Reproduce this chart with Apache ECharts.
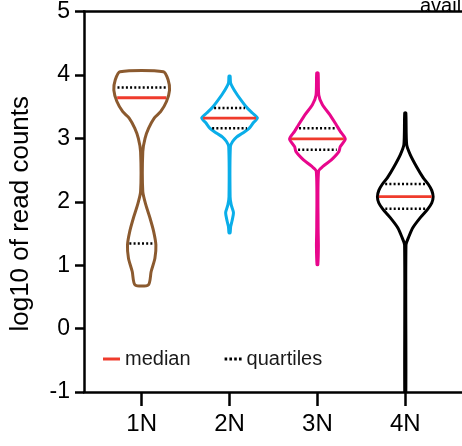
<!DOCTYPE html>
<html>
<head>
<meta charset="utf-8">
<script src="https://cdn.jsdelivr.net/npm/echarts@6/dist/echarts.min.js"></script>
<style>
  html, body { margin: 0; padding: 0; background: #fff; }
  #chart { width: 462px; height: 446px; }
</style>
</head>
<body>
<div id="chart"></div>
<script>
// groups on the x axis
var groups = ['1N', '2N', '3N', '4N'];

// summary lines (log10 of read counts)
var medians        = [3.64, 3.32, 2.99, 2.08];
var upperQuartiles = [3.80, 3.48, 3.16, 2.28];
var lowerQuartiles = [1.34, 3.16, 2.82, 1.89];

// violin outlines: y values and relative half widths (1 = widest)
var violinY_1N = [0.69, 0.90, 1.11, 1.32, 1.53, 1.74, 1.95, 2.16, 2.79, 3.00, 3.16, 3.32, 3.42, 3.58, 3.76, 3.92, 4.05];
var violinW_1N = [0.24, 0.34, 0.475, 0.51, 0.43, 0.30, 0.15, 0.04, 0.04, 0.12, 0.25, 0.45, 0.68, 0.89, 1.0, 0.95, 0.78];

var violinY_2N = [1.51, 1.61, 1.70, 1.83, 1.95, 2.08, 2.87, 2.95, 3.02, 3.08, 3.16, 3.25, 3.32, 3.40, 3.48, 3.55, 3.71, 3.87, 3.98];
var violinW_2N = [0.02, 0.04, 0.09, 0.14, 0.06, 0.02, 0.03, 0.11, 0.25, 0.46, 0.71, 0.86, 1.0, 0.82, 0.63, 0.5, 0.24, 0.04, 0.02];

var violinY_3N = [1.01, 1.30, 1.60, 2.48, 2.56, 2.66, 2.79, 2.87, 2.99, 3.11, 3.21, 3.37, 3.53, 3.68, 4.03];
var violinW_3N = [0.015, 0.035, 0.025, 0.04, 0.21, 0.5, 0.77, 0.82, 1.0, 0.82, 0.68, 0.45, 0.18, 0.05, 0.025];

var violinY_4N = [-1.0, 1.32, 1.43, 1.59, 1.75, 1.88, 1.98, 2.08, 2.18, 2.28, 2.38, 2.54, 2.74, 2.90, 3.40];
var violinW_4N = [0.02, 0.025, 0.11, 0.27, 0.54, 0.80, 0.95, 1.0, 0.95, 0.82, 0.64, 0.42, 0.18, 0.05, 0.02];

var profiles = [
    {y: violinY_1N, w: violinW_1N},
    {y: violinY_2N, w: violinW_2N},
    {y: violinY_3N, w: violinW_3N},
    {y: violinY_4N, w: violinW_4N}
];

var colors = ['#8B5A2F', '#0AAEE9', '#E8078C', '#000000'];
var medianColor = '#EF3B2C';
var halfMax = 0.317;   // widest half width, in x axis units
var fontName = 'Liberation Sans';

function widthAt(p, v){
    for (var i = 0; i < p.y.length - 1; i++) {
        if (v >= p.y[i] && v <= p.y[i + 1]) {
            var t = (v - p.y[i]) / (p.y[i + 1] - p.y[i]);
            return p.w[i] + t * (p.w[i + 1] - p.w[i]);
        }
    }
    return 0;
}

function renderViolin(params, api){
    var gi = params.dataIndex;
    var cx = api.value(0);
    var p = profiles[gi];
    var color = colors[gi];
    var pts = [];
    for (var i = 0; i < p.y.length; i++) {
        pts.push(api.coord([cx + p.w[i] * halfMax, p.y[i]]));
    }
    for (var j = p.y.length - 1; j >= 0; j--) {
        pts.push(api.coord([cx - p.w[j] * halfMax, p.y[j]]));
    }
    var children = [{
        type: 'polygon',
        shape: {points: pts, smooth: 0.25},
        style: {fill: 'none', stroke: color, lineWidth: 3}
    }];

    function hline(v, k, style){
        var w = widthAt(p, v) * halfMax * k;
        var a = api.coord([cx - w, v]);
        var b = api.coord([cx + w, v]);
        children.push({
            type: 'line',
            shape: {x1: a[0], y1: a[1], x2: b[0], y2: b[1]},
            style: style
        });
    }
    hline(upperQuartiles[gi], 0.88, {stroke: '#000', lineWidth: 2.5, lineDash: [2, 2.2]});
    hline(lowerQuartiles[gi], 0.88, {stroke: '#000', lineWidth: 2.5, lineDash: [2, 2.2]});
    hline(medians[gi], 0.95, {stroke: medianColor, lineWidth: 2.8});

    return {type: 'group', children: children};
}

var chart = echarts.init(document.getElementById('chart'), null, {renderer: 'canvas'});

var option = {
    animation: false,
    backgroundColor: '#fff',
    textStyle: {fontFamily: fontName},
    grid: {left: 82, right: 0, top: 11, bottom: 54, containLabel: false},
    legend: {
        left: 103,
        top: 349,
        padding: 0,
        itemWidth: 17,
        itemHeight: 3,
        itemGap: 34,
        textStyle: {fontSize: 20, color: '#1a1a1a', fontFamily: fontName},
        data: [
            {name: 'median', icon: 'rect'},
            {name: 'quartiles', icon: 'path://M0 0h2.6v3h-2.6zM4.8 0h2.6v3h-2.6zM9.6 0h2.6v3h-2.6zM14.4 0h2.6v3h-2.6z'}
        ]
    },
    xAxis: [{
        type: 'value',
        min: 0.3434,
        max: 4.6455,
        position: 'bottom',
        splitLine: {show: false},
        axisLine: {show: true, onZero: false, lineStyle: {color: '#000', width: 2.5}},
        axisTick: {show: true, length: 14, customValues: [1, 2, 3, 4], lineStyle: {color: '#000', width: 2.5}},
        axisLabel: {
            customValues: [1, 2, 3, 4],
            margin: 20,
            fontSize: 24,
            color: '#000',
            fontFamily: fontName,
            formatter: function(v){ return groups[Math.round(v) - 1] || ''; }
        }
    }, {
        type: 'value',
        min: 0.3434,
        max: 4.6455,
        position: 'top',
        splitLine: {show: false},
        axisLine: {show: true, onZero: false, lineStyle: {color: '#000', width: 2.5}},
        axisTick: {show: false},
        axisLabel: {show: false}
    }],
    yAxis: {
        type: 'value',
        min: -1,
        max: 5,
        interval: 1,
        name: 'log10 of read counts',
        nameLocation: 'middle',
        nameGap: 50,
        nameTextStyle: {fontSize: 26, color: '#000', fontFamily: fontName, padding: [0, 24, 0, 0]},
        splitLine: {show: false},
        axisLine: {show: true, onZero: false, lineStyle: {color: '#000', width: 2.5}},
        axisTick: {show: true, length: 9, lineStyle: {color: '#000', width: 2.5}},
        axisLabel: {margin: 14, fontSize: 23, color: '#000', fontFamily: fontName}
    },
    graphic: [{
        type: 'text',
        x: 420,
        y: 6,
        style: {text: 'avail', font: '20px "Liberation Sans"', fill: '#000', verticalAlign: 'middle'}
    }],
    series: [{
        type: 'custom',
        name: 'violins',
        clip: true,
        renderItem: renderViolin,
        encode: {x: 0, y: 1},
        data: groups.map(function(g, i){ return [i + 1, medians[i]]; }),
        z: 3
    }, {
        type: 'line',
        name: 'median',
        symbol: 'none',
        data: [],
        lineStyle: {color: medianColor, width: 3},
        itemStyle: {color: medianColor}
    }, {
        type: 'line',
        name: 'quartiles',
        symbol: 'none',
        data: [],
        lineStyle: {color: '#000', width: 3},
        itemStyle: {color: '#000'}
    }]
};

chart.setOption(option);
</script>
</body>
</html>
